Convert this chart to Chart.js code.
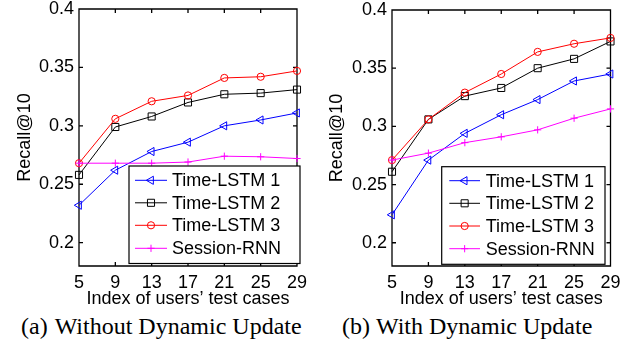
<!DOCTYPE html>
<html><head><meta charset="utf-8">
<script src="https://cdn.jsdelivr.net/npm/chart.js@4.4.1/dist/chart.umd.min.js"></script>
<style>
html,body{margin:0;padding:0;background:#fff;width:633px;height:347px;overflow:hidden;position:relative}
.wrap{position:absolute;top:0;height:312px}
canvas{display:block}
.cap{position:absolute;top:314px;font-family:'Liberation Serif','Times New Roman',serif;font-size:24px;line-height:24px;white-space:nowrap;color:#000}
</style></head><body>
<div class="wrap" style="left:0;width:316px"><canvas id="c1" width="316" height="312"></canvas></div>
<div class="wrap" style="left:316px;width:317px"><canvas id="c2" width="317" height="312"></canvas></div>
<div class="cap" style="left:21px">(a)<span style="margin-left:7px">Without Dynamic Update</span></div>
<div class="cap" style="left:342px">(b)<span style="margin-left:6px">With Dynamic Update</span></div>
<script>
// ---- data ----
const categories = ['5', '9', '13', '17', '21', '25', '29'];
const yTicks = [0.2, 0.25, 0.3, 0.35, 0.4];
const yTickLabels = ['0.2', '0.25', '0.3', '0.35', '0.4'];
const seriesNames = ['Time-LSTM 1', 'Time-LSTM 2', 'Time-LSTM 3', 'Session-RNN'];
const xTitle = 'Index of users\u2019 test cases';
const yTitle = 'Recall@10';

const aTimeLSTM1 = [0.232, 0.262, 0.278, 0.286, 0.300, 0.305, 0.311];
const aTimeLSTM2 = [0.258, 0.299, 0.308, 0.320, 0.327, 0.328, 0.331];
const aTimeLSTM3 = [0.268, 0.306, 0.321, 0.326, 0.341, 0.342, 0.347];
const aSessionRNN = [0.268, 0.268, 0.268, 0.269, 0.274, 0.2735, 0.272];

const bTimeLSTM1 = [0.224, 0.271, 0.294, 0.310, 0.323, 0.339, 0.345];
const bTimeLSTM2 = [0.261, 0.306, 0.326, 0.333, 0.350, 0.358, 0.373];
const bTimeLSTM3 = [0.271, 0.306, 0.329, 0.345, 0.364, 0.371, 0.376];
const bSessionRNN = [0.271, 0.277, 0.286, 0.291, 0.297, 0.307, 0.315];

// ---- styles ----
const styles = [
  {color: '#0000ff', pointStyle: 'triangle', rotation: -90, radius: 4.7},
  {color: '#000000', pointStyle: 'rect', rotation: 0, radius: 5},
  {color: '#ff0000', pointStyle: 'circle', rotation: 0, radius: 3.6},
  {color: '#ff00ff', pointStyle: 'cross', rotation: 0, radius: 3.6}
];
const FONT = "'Liberation Sans', Arial, Helvetica, sans-serif";

function drawMarker(ctx, st, x, y) {
  if (Chart.helpers && Chart.helpers.drawPoint) {
    Chart.helpers.drawPoint(ctx, {pointStyle: st.pointStyle, rotation: st.rotation, radius: st.radius, borderWidth: 1}, x, y);
  }
}

const framePlugin = {
  id: 'frame',
  beforeDatasetsDraw(chart) {
    const {ctx, chartArea: a, scales: {x, y}} = chart;
    ctx.save();
    ctx.strokeStyle = '#000';
    ctx.lineWidth = 1.3;
    ctx.beginPath();
    ctx.rect(a.left, a.top, a.right - a.left, a.bottom - a.top);
    const tl = 4;
    categories.forEach((c, i) => {
      const px = x.getPixelForTick(i);
      ctx.moveTo(px, a.bottom); ctx.lineTo(px, a.bottom - tl);
      ctx.moveTo(px, a.top); ctx.lineTo(px, a.top + tl);
    });
    yTicks.forEach(v => {
      const py = y.getPixelForValue(v);
      ctx.moveTo(a.left, py); ctx.lineTo(a.left + tl, py);
      ctx.moveTo(a.right, py); ctx.lineTo(a.right - tl, py);
    });
    ctx.stroke();
    ctx.restore();
  },
  afterDatasetsDraw(chart, args, opts) {
    const {ctx} = chart;
    const L = opts;
    ctx.save();
    ctx.fillStyle = '#fff';
    ctx.fillRect(L.left, L.top, L.right - L.left, L.bottom - L.top);
    ctx.strokeStyle = '#000';
    ctx.lineWidth = 1.2;
    ctx.strokeRect(L.left, L.top, L.right - L.left, L.bottom - L.top);
    chart.data.datasets.forEach((ds, i) => {
      const st = styles[i];
      const ry = L.rows[i];
      ctx.strokeStyle = st.color;
      ctx.lineWidth = 1;
      ctx.beginPath();
      ctx.moveTo(L.lineX0, ry); ctx.lineTo(L.lineX1, ry);
      ctx.stroke();
      ctx.fillStyle = 'rgba(0,0,0,0)';
      drawMarker(ctx, st, (L.lineX0 + L.lineX1) / 2, ry);
      ctx.fillStyle = '#000';
      ctx.font = '18px ' + FONT;
      ctx.textBaseline = 'middle';
      ctx.textAlign = 'left';
      ctx.fillText(ds.label, L.textX, ry + 1);
    });
    ctx.restore();
  }
};

function makeChart(id, values, lay) {
  const datasets = values.map((vals, i) => ({
    label: seriesNames[i],
    data: vals,
    borderColor: styles[i].color,
    backgroundColor: 'rgba(0,0,0,0)',
    borderWidth: 1,
    pointStyle: styles[i].pointStyle,
    pointRotation: styles[i].rotation,
    pointRadius: styles[i].radius,
    pointHoverRadius: styles[i].radius,
    pointBorderWidth: 1,
    pointBorderColor: styles[i].color,
    pointBackgroundColor: 'rgba(0,0,0,0)',
    tension: 0,
    clip: false,
    order: 4 - i
  }));
  return new Chart(document.getElementById(id), {
    type: 'line',
    data: {labels: categories, datasets},
    plugins: [framePlugin],
    options: {
      responsive: false,
      animation: false,
      events: [],
      layout: {padding: {top: lay.top, right: lay.right, left: 0, bottom: 0}},
      plugins: {legend: {display: false}, tooltip: {enabled: false}, frame: lay.legend},
      scales: {
        x: {
          type: 'category',
          offset: false,
          grid: {display: false, drawTicks: false},
          border: {display: false},
          ticks: {color: '#000', font: {family: FONT, size: 18}, padding: 6, maxRotation: 0, autoSkip: false},
          title: {display: true, text: xTitle, color: '#000', font: {family: FONT, size: 18}, padding: {top: 0, bottom: 2}},
          afterFit(s) { s.height = 46; s.paddingLeft = 0; s.paddingRight = 0; }
        },
        y: {
          type: 'linear',
          min: 0.18, max: 0.4,
          grid: {display: false, drawTicks: false},
          border: {display: false},
          afterBuildTicks(s) { s.ticks = yTicks.map(v => ({value: v})); },
          ticks: {color: '#000', font: {family: FONT, size: 18}, padding: 5,
                  callback: (v, i) => yTickLabels[i]},
          title: {display: true, text: yTitle, color: '#000', font: {family: FONT, size: 18}, padding: {top: lay.yTitlePad, bottom: 0}},
          afterFit(s) { s.width = lay.yWidth; s.paddingTop = 0; s.paddingBottom = 0; }
        }
      }
    }
  });
}

makeChart('c1', [aTimeLSTM1, aTimeLSTM2, aTimeLSTM3, aSessionRNN], {
  top: 9, right: 19, yWidth: 79, yTitlePad: 14,
  legend: {left: 129, top: 166, right: 300, bottom: 263.5, rows: [180.3, 202.8, 225.3, 248.3], lineX0: 135, lineX1: 167, textX: 172}
});
makeChart('c2', [bTimeLSTM1, bTimeLSTM2, bTimeLSTM3, bSessionRNN], {
  top: 10, right: 22.5, yWidth: 76, yTitlePad: 10.6,
  legend: {left: 125.7, top: 166.7, right: 289, bottom: 264.3, rows: [180.7, 203.3, 226, 248.7], lineX0: 133.3, lineX1: 164, textX: 169.7}
});
</script>
</body></html>
